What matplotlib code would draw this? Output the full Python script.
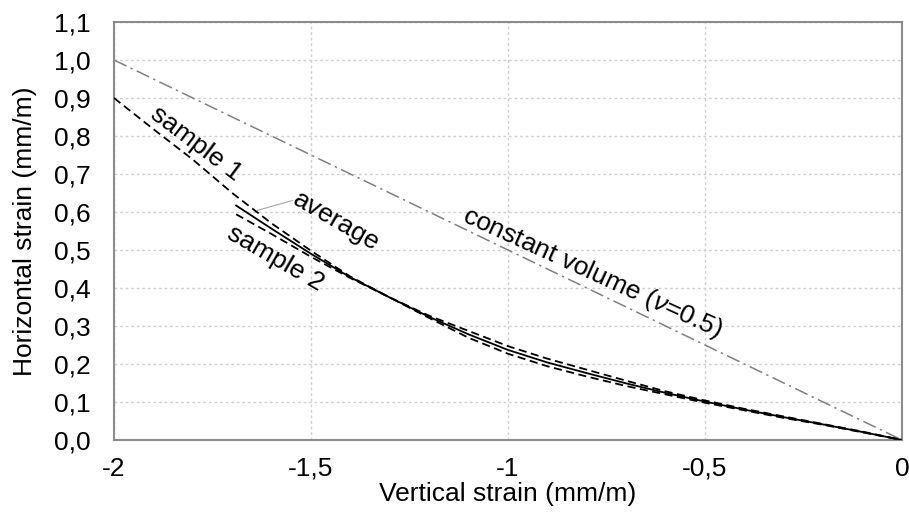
import matplotlib
matplotlib.use("Agg")
import matplotlib.pyplot as plt
from matplotlib.ticker import FixedLocator

plt.rcParams['font.family'] = ['Liberation Sans', 'DejaVu Sans']
plt.rcParams['mathtext.fontset'] = 'custom'
plt.rcParams['mathtext.rm'] = 'Liberation Sans'
plt.rcParams['mathtext.it'] = 'Liberation Sans:italic'

# ---- data ----
s1_x = [-2.0, -1.9, -1.8, -1.7, -1.6, -1.5, -1.4, -1.3, -1.2, -1.1, -1.0,
        -0.9, -0.8, -0.7, -0.6, -0.5, -0.4, -0.3, -0.2, -0.1, 0.0]
s1_y = [0.900, 0.818, 0.738, 0.650, 0.570, 0.498, 0.430, 0.375, 0.327, 0.287, 0.247,
        0.214, 0.185, 0.156, 0.128, 0.104, 0.082, 0.062, 0.042, 0.022, 0.0]

s2_x = [-1.69, -1.6, -1.5, -1.4, -1.3, -1.2, -1.1, -1.0,
        -0.9, -0.8, -0.7, -0.6, -0.5, -0.4, -0.3, -0.2, -0.1, 0.0]
s2_y = [0.594, 0.542, 0.482, 0.426, 0.375, 0.321, 0.269, 0.227,
        0.194, 0.167, 0.142, 0.120, 0.098, 0.078, 0.058, 0.040, 0.020, 0.0]

avg_x = [-1.69, -1.6, -1.5, -1.4, -1.3, -1.2, -1.1, -1.0,
         -0.9, -0.8, -0.7, -0.6, -0.5, -0.4, -0.3, -0.2, -0.1, 0.0]
avg_y = [0.617, 0.556, 0.490, 0.428, 0.375, 0.324, 0.278, 0.237,
         0.204, 0.176, 0.149, 0.124, 0.101, 0.080, 0.060, 0.041, 0.021, 0.0]

cv_x = [-2.0, 0.0]
cv_y = [1.0, 0.0]

x_ticks = [-2, -1.5, -1, -0.5, 0]
x_tick_labels = ['-2', '-1,5', '-1', '-0,5', '0']
y_ticks = [0.0, 0.1, 0.2, 0.3, 0.4, 0.5, 0.6, 0.7, 0.8, 0.9, 1.0, 1.1]
y_tick_labels = ['0,0', '0,1', '0,2', '0,3', '0,4', '0,5', '0,6', '0,7', '0,8', '0,9', '1,0', '1,1']

# ---- figure ----
W, H = 909, 518
fig = plt.figure(figsize=(W / 100, H / 100), dpi=100)
ax = fig.add_axes([114 / W, 78 / H, 788 / W, 418 / H])

FS = 19

ax.plot(cv_x, cv_y, color='#808080', lw=1.1, linestyle=(0, (9, 3, 1.5, 3)), zorder=2)
ax.plot(s1_x, s1_y, color='black', lw=1.3, linestyle=(0, (4.5, 2.5)), zorder=3)
ax.plot(s2_x, s2_y, color='black', lw=1.3, linestyle=(0, (4.5, 2.5)), zorder=3)
ax.plot(avg_x, avg_y, color='black', lw=1.3, linestyle='-', zorder=4)

ax.set_xlim(-2, 0)
ax.set_ylim(0, 1.1)
ax.xaxis.set_major_locator(FixedLocator(x_ticks))
ax.yaxis.set_major_locator(FixedLocator(y_ticks))
ax.set_xticklabels(x_tick_labels)
ax.set_yticklabels(y_tick_labels)
ax.tick_params(axis='both', length=0, labelsize=FS)
ax.tick_params(axis='x', pad=12)
ax.tick_params(axis='y', pad=17)

ax.grid(True, color='#d0d0d0', lw=1.0, linestyle=(0, (2, 2)), zorder=0)
ax.set_axisbelow(True)
for sp in ax.spines.values():
    sp.set_color('#8c8c8c')
    sp.set_linewidth(1.5)

ax.set_xlabel('Vertical strain (mm/m)', fontsize=FS)
ax.set_ylabel('Horizontal strain (mm/m)', fontsize=FS)
ax.xaxis.set_label_coords(0.5, -0.1)
ax.yaxis.set_label_coords(-0.098, 0.5)

# annotations
ax.text(-1.792, 0.780, 'sample 1', fontsize=FS, rotation=-37, rotation_mode='anchor',
        ha='center', va='center')
ax.text(-1.437, 0.575, 'average', fontsize=FS, rotation=-30, rotation_mode='anchor',
        ha='center', va='center')
ax.text(-1.589, 0.478, 'sample 2', fontsize=FS, rotation=-30, rotation_mode='anchor',
        ha='center', va='center')
ax.text(-0.787, 0.441, r'constant volume ($\mathit{\nu}$=0.5)', fontsize=FS, rotation=-24.5,
        rotation_mode='anchor', ha='center', va='center')
ax.plot([-1.548, -1.637], [0.630, 0.604], color='#a6a6a6', lw=0.8, zorder=5)

fig.savefig('out.png', dpi=100)
